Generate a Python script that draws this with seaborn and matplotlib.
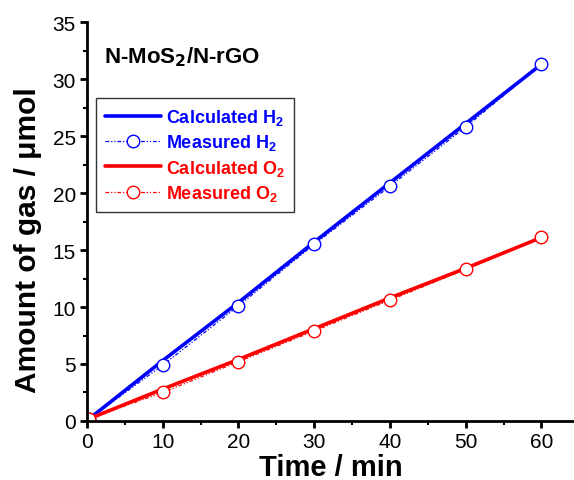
import matplotlib
matplotlib.use("Agg")
import matplotlib.pyplot as plt
import seaborn as sns
import pandas as pd

# time points (min)
TIME = [0.3, 10, 20, 30, 40, 50, 60]

# gas amounts (umol)
CALC_H2 = [0.2, 5.3, 10.4, 15.7, 20.9, 26.1, 31.3]
MEAS_H2 = [0.2, 4.9, 10.1, 15.5, 20.6, 25.8, 31.3]
CALC_O2 = [0.2, 2.8, 5.4, 8.1, 10.8, 13.4, 16.1]
MEAS_O2 = [0.2, 2.5, 5.2, 7.9, 10.6, 13.3, 16.1]

sns.set_theme(style="ticks")
plt.rcParams["font.family"] = ["Liberation Sans", "DejaVu Sans"]
plt.rcParams["text.color"] = "black"
plt.rcParams["axes.labelcolor"] = "black"
plt.rcParams["mathtext.default"] = "regular"

fig = plt.figure(figsize=(5.74, 4.81), dpi=100)
ax = fig.add_axes([0.1516, 0.1227, 0.8484, 0.8293])

df = pd.DataFrame({"t": TIME, "ch2": CALC_H2, "mh2": MEAS_H2,
                   "co2": CALC_O2, "mo2": MEAS_O2})

DOTS = (0, (3, 1.5, 1, 1.5, 1, 1.5))

sns.lineplot(data=df, x="t", y="ch2", ax=ax, color="#0000ff", lw=2.6,
             label="Calculated H$_2$")
sns.lineplot(data=df, x="t", y="mh2", ax=ax, color="#0000ff", lw=0.9,
             dashes=False, linestyle=DOTS,
             marker="o", markersize=9, markerfacecolor="white",
             markeredgecolor="#0000ff", markeredgewidth=1.0,
             label="Measured H$_2$")
sns.lineplot(data=df, x="t", y="co2", ax=ax, color="#ff0000", lw=2.6,
             label="Calculated O$_2$")
sns.lineplot(data=df, x="t", y="mo2", ax=ax, color="#ff0000", lw=0.9,
             dashes=False, linestyle=DOTS,
             marker="o", markersize=9, markerfacecolor="white",
             markeredgecolor="#ff0000", markeredgewidth=1.0,
             label="Measured O$_2$")

ax.set_xlim(0, 64.3)
ax.set_ylim(0, 35)
ax.set_xticks(range(0, 61, 10))
ax.set_yticks(range(0, 36, 5))
ax.set_xticks(range(5, 61, 10), minor=True)
ax.set_yticks([2.5 + 5 * i for i in range(7)], minor=True)

for side in ["top", "right"]:
    ax.spines[side].set_visible(False)
for side in ["left", "bottom"]:
    ax.spines[side].set_linewidth(2.0)
    ax.spines[side].set_color("black")

ax.tick_params(which="major", direction="out", length=5, width=2,
               labelsize=15, colors="black", labelcolor="black", pad=3)
ax.tick_params(which="minor", direction="out", length=3, width=1.5,
               colors="black")

ax.set_xlabel("Time / min", fontsize=21, fontweight="bold")
ax.set_ylabel("Amount of gas / \u03bcmol", fontsize=21.5, fontweight="bold")
ax.yaxis.set_label_coords(-0.092, 0.456)
ax.xaxis.set_label_coords(0.5, -0.080)

ax.text(0.034, 0.915, "N-MoS$_{\\mathbf{2}}$/N-rGO", transform=ax.transAxes,
        fontsize=16, fontweight="bold", ha="left", va="center")

leg = ax.legend(loc="upper left", bbox_to_anchor=(0.018, 0.81),
                prop={"weight": "bold", "size": 13},
                frameon=True, fancybox=False, handlelength=3.1,
                handletextpad=0.3, labelspacing=0.3, borderpad=0.5,
                borderaxespad=0.0)
leg.get_frame().set_edgecolor("black")
leg.get_frame().set_linewidth(1.0)
for txt, col in zip(leg.get_texts(), ["#0000ff", "#0000ff", "#ff0000", "#ff0000"]):
    txt.set_color(col)

fig.savefig("out.png", dpi=100)
